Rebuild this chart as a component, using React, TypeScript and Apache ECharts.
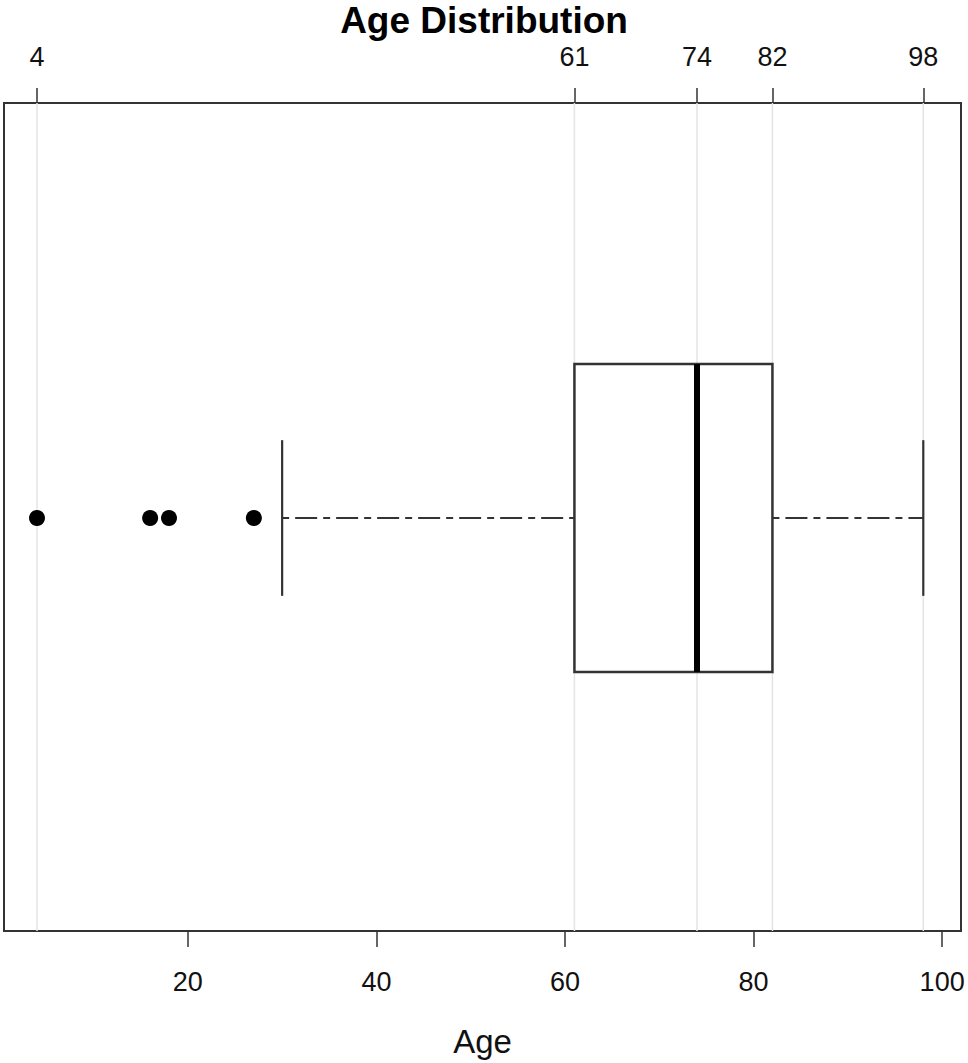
import React, { useEffect, useRef } from "react";
import * as echarts from "echarts";

// ---- data ----
const categories = ["Age"];
// [categoryIndex, lowerWhisker, Q1, median, Q3, upperWhisker]
const boxStats = [[0, 30, 61, 74, 82, 98]];
const outliers = [4, 16, 18, 27];
const topTicks = [4, 61, 74, 82, 98];
const bottomTicks = [20, 40, 60, 80, 100];
const xMin = 0.5;
const xMax = 102;

const FONT = "Liberation Sans, Arial, Helvetica, sans-serif";
const LINE = "#333333";

export default function App() {
  const ref = useRef<HTMLDivElement>(null);
  useEffect(() => {
    if (!ref.current) return;
    const chart = echarts.init(ref.current, undefined, { renderer: "svg" });
    const option: any = {
      animation: false,
      backgroundColor: "#ffffff",
      title: {
        text: "Age Distribution",
        left: "center",
        top: -3,
        textStyle: { fontFamily: FONT, fontSize: 37, fontWeight: "bold", color: "#000" },
      },
      grid: {
        left: 4,
        right: 7,
        top: 103,
        bottom: 131,
        show: true,
        borderColor: LINE,
        borderWidth: 2,
        backgroundColor: "transparent",
      },
      xAxis: [
        {
          type: "value",
          position: "bottom",
          min: xMin,
          max: xMax,
          name: "Age",
          nameLocation: "middle",
          nameGap: 94,
          nameTextStyle: { fontFamily: FONT, fontSize: 33, color: "#111" },
          axisLine: { show: true, lineStyle: { color: LINE, width: 2 } },
          axisTick: { show: true, customValues: bottomTicks, length: 16, lineStyle: { color: LINE, width: 1.5 } },
          axisLabel: {
            customValues: bottomTicks,
            margin: 37,
            fontFamily: FONT,
            fontSize: 27,
            color: "#111",
            showMinLabel: true,
            showMaxLabel: true,
          },
          splitLine: { show: false },
        },
        {
          type: "value",
          position: "top",
          min: xMin,
          max: xMax,
          axisLine: { show: true, lineStyle: { color: LINE, width: 2 } },
          axisTick: { show: true, customValues: topTicks, length: 15, lineStyle: { color: LINE, width: 1.5 } },
          axisLabel: {
            customValues: topTicks,
            margin: 33,
            fontFamily: FONT,
            fontSize: 27,
            color: "#111",
            showMinLabel: true,
            showMaxLabel: true,
          },
          splitLine: { show: false },
        },
      ],
      yAxis: {
        type: "category",
        data: categories,
        show: false,
        axisLine: { show: false },
      },
      series: [
        {
          type: "custom",
          name: "grid",
          xAxisIndex: 0,
          yAxisIndex: 0,
          z: 1,
          silent: true,
          data: topTicks.map((v) => [v, 0]),
          encode: { x: 0, y: 1 },
          renderItem: (params: any, api: any) => {
            const p = api.coord([api.value(0), 0]);
            const cs = params.coordSys;
            return {
              type: "line",
              shape: { x1: p[0], y1: cs.y, x2: p[0], y2: cs.y + cs.height },
              style: { stroke: "#e4e4e4", lineWidth: 1.5 },
            };
          },
        },
        {
          type: "custom",
          name: "box",
          xAxisIndex: 0,
          yAxisIndex: 0,
          z: 3,
          silent: true,
          data: boxStats,
          encode: { y: 0, x: [1, 2, 3, 4, 5] },
          renderItem: (params: any, api: any) => {
            const c = api.value(0);
            const lo = api.coord([api.value(1), c]);
            const q1 = api.coord([api.value(2), c]);
            const med = api.coord([api.value(3), c]);
            const q3 = api.coord([api.value(4), c]);
            const hi = api.coord([api.value(5), c]);
            const band = api.size([0, 1])[1];
            const bh = band * 0.372;
            const ch = band * 0.188;
            const cy = q1[1] + 1;
            const dash = [7, 6, 22, 6];
            return {
              type: "group",
              children: [
                {
                  type: "line",
                  shape: { x1: lo[0], y1: cy, x2: q1[0], y2: cy },
                  style: { stroke: LINE, lineWidth: 2.2, lineDash: dash },
                },
                {
                  type: "line",
                  shape: { x1: q3[0], y1: cy, x2: hi[0], y2: cy },
                  style: { stroke: LINE, lineWidth: 2.2, lineDash: dash },
                },
                {
                  type: "line",
                  shape: { x1: lo[0], y1: cy - ch / 2, x2: lo[0], y2: cy + ch / 2 },
                  style: { stroke: LINE, lineWidth: 2.2 },
                },
                {
                  type: "line",
                  shape: { x1: hi[0], y1: cy - ch / 2, x2: hi[0], y2: cy + ch / 2 },
                  style: { stroke: LINE, lineWidth: 2.2 },
                },
                {
                  type: "rect",
                  shape: { x: q1[0], y: cy - bh / 2, width: q3[0] - q1[0], height: bh },
                  style: { fill: "#ffffff", stroke: LINE, lineWidth: 2.5 },
                },
                {
                  type: "line",
                  shape: { x1: med[0], y1: cy - bh / 2, x2: med[0], y2: cy + bh / 2 },
                  style: { stroke: "#000000", lineWidth: 6 },
                },
              ],
            };
          },
        },
        {
          type: "scatter",
          name: "outliers",
          xAxisIndex: 0,
          yAxisIndex: 0,
          z: 4,
          symbol: "circle",
          symbolSize: 16,
          symbolOffset: [0, 1],
          itemStyle: { color: "#000000", opacity: 1 },
          data: outliers.map((v) => [v, 0]),
        },
      ],
    };
    chart.setOption(option);
    return () => chart.dispose();
  }, []);
  return (
    <div
      ref={ref}
      style={{ position: "fixed", left: 0, top: 0, width: 968, height: 1063, background: "#fff" }}
    />
  );
}
